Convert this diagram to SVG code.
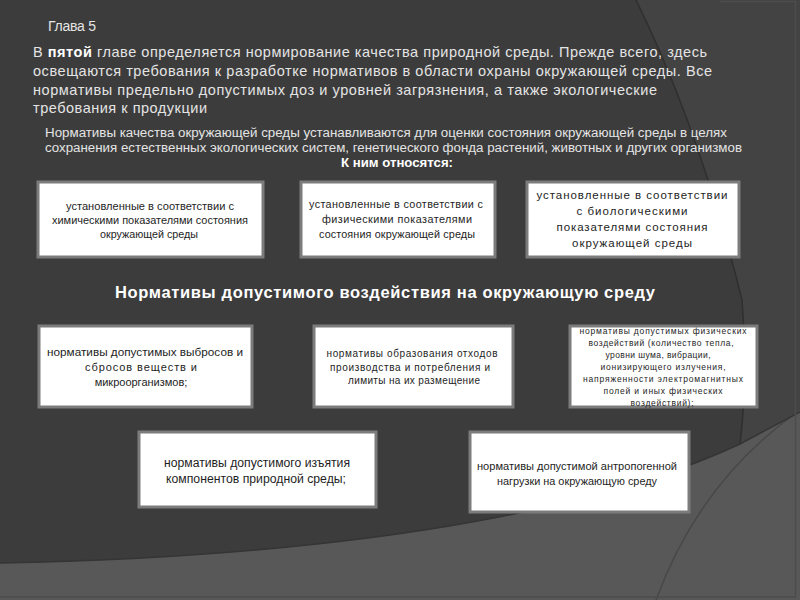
<svg xmlns="http://www.w3.org/2000/svg" width="800" height="600" viewBox="0 0 800 600">
<style>
.bg-line{fill:none;stroke-width:1.5}
.box rect{fill:#ffffff;stroke:#7c7c7c;stroke-width:3}
.bt{font-family:"Liberation Sans",Arial,sans-serif;fill:#1e1e1e;text-anchor:middle}
.wt{font-family:"Liberation Sans",Arial,sans-serif;fill:#e4e4e4}
.hd{font-family:"Liberation Sans",Arial,sans-serif;fill:#ffffff;font-weight:bold}
</style>
<g id="background">
<rect x="0" y="0" width="800" height="600" fill="#585858"/>
<path d="M636,0 L800,0 L800,412 L740,444 Q748,380 742,300 Q700,130 636,0 Z" fill="#434343"/>
<path d="M0,0 L636,0 Q700,130 742,300 Q748,380 740,444 C620,500 400,555 0,563 Z" fill="#3c3c3c"/>
<path class="bg-line" d="M636,0 Q700,130 742,300 Q748,380 740,444" stroke="#2f2f2f"/>
<path class="bg-line" d="M800,410 Q700,480 656,600" stroke="#484848"/>
<path class="bg-line" d="M0,563 C400,555 620,500 740,444 L800,412" stroke="#353535"/>
<path class="bg-line" d="M720,1.5 L795.5,1.5 L795.5,597 L0,597" stroke="#4c4c4c" stroke-width="1"/>
</g>
<g id="title">
<text class="wt" x="48" y="31" font-size="14" textLength="48" lengthAdjust="spacing">Глава 5</text>
</g>
<g id="intro">
<text class="wt" x="33" y="57" font-size="14.5" textLength="674" lengthAdjust="spacing">В <tspan font-weight="bold" fill="#ffffff">пятой</tspan> главе определяется нормирование качества природной среды. Прежде всего, здесь</text>
<text class="wt" x="33" y="76" font-size="14.5" textLength="679" lengthAdjust="spacing">освещаются требования к разработке нормативов в области охраны окружающей среды. Все</text>
<text class="wt" x="33" y="94.5" font-size="14.5" textLength="624" lengthAdjust="spacing">нормативы предельно допустимых доз и уровней загрязнения, а также экологические</text>
<text class="wt" x="33" y="113" font-size="14.5" textLength="174" lengthAdjust="spacing">требования к продукции</text>
</g>
<g id="quality-note">
<text class="wt" x="45" y="137" font-size="12" textLength="682" lengthAdjust="spacingAndGlyphs">Нормативы качества окружающей среды устанавливаются для оценки состояния окружающей среды в целях</text>
<text class="wt" x="45" y="152" font-size="12" textLength="697" lengthAdjust="spacingAndGlyphs">сохранения естественных экологических систем, генетического фонда растений, животных и других организмов</text>
<text class="hd" x="397" y="167" font-size="12" text-anchor="middle" textLength="112" lengthAdjust="spacingAndGlyphs">К ним относятся:</text>
</g>
<g id="box-chem" class="box">
<rect x="38" y="182" width="225" height="75"/>
<text class="bt" x="150" y="210" font-size="11" textLength="168" lengthAdjust="spacingAndGlyphs">установленные в соответствии с</text>
<text class="bt" x="150" y="224" font-size="11" textLength="196" lengthAdjust="spacingAndGlyphs">химическими показателями состояния</text>
<text class="bt" x="149" y="238" font-size="11" textLength="98" lengthAdjust="spacingAndGlyphs">окружающей среды</text>
</g>
<g id="box-phys" class="box">
<rect x="301" y="182" width="194" height="75"/>
<text class="bt" x="396" y="208" font-size="10.8" textLength="174" lengthAdjust="spacing">установленные в соответствии с</text>
<text class="bt" x="397" y="223" font-size="10.8" textLength="150" lengthAdjust="spacing">физическими показателями</text>
<text class="bt" x="397" y="238" font-size="10.8" textLength="156" lengthAdjust="spacing">состояния окружающей среды</text>
</g>
<g id="box-bio" class="box">
<rect x="527" y="182" width="212" height="75"/>
<text class="bt" x="632" y="199" font-size="11.5" textLength="191" lengthAdjust="spacing">установленные в соответствии</text>
<text class="bt" x="632" y="215" font-size="11.5" textLength="111" lengthAdjust="spacing">с биологическими</text>
<text class="bt" x="632" y="231" font-size="11.5" textLength="151" lengthAdjust="spacing">показателями состояния</text>
<text class="bt" x="632" y="247" font-size="11.5" textLength="120" lengthAdjust="spacing">окружающей среды</text>
</g>
<g id="heading">
<text class="hd" x="385" y="298" font-size="16.5" text-anchor="middle" textLength="540" lengthAdjust="spacing">Нормативы допустимого воздействия на окружающую среду</text>
</g>
<g id="box-emissions" class="box">
<rect x="39" y="326" width="213" height="81"/>
<text class="bt" x="145" y="356" font-size="11" textLength="196" lengthAdjust="spacingAndGlyphs">нормативы допустимых выбросов и</text>
<text class="bt" x="141" y="371" font-size="11" textLength="112" lengthAdjust="spacing">сбросов веществ и</text>
<text class="bt" x="141" y="386" font-size="11">микроорганизмов;</text>
</g>
<g id="box-waste" class="box">
<rect x="314" y="326" width="199" height="81"/>
<text class="bt" x="412" y="357" font-size="10" textLength="171" lengthAdjust="spacing">нормативы образования отходов</text>
<text class="bt" x="410" y="370.5" font-size="10" textLength="160" lengthAdjust="spacing">производства и потребления и</text>
<text class="bt" x="414" y="384" font-size="10" textLength="132" lengthAdjust="spacing">лимиты на их размещение</text>
</g>
<g id="box-physical-impact" class="box">
<rect x="570" y="326" width="187" height="81"/>
<text class="bt" x="663" y="334" font-size="8.5" textLength="167" lengthAdjust="spacing">нормативы допустимых физических</text>
<text class="bt" x="661" y="346" font-size="8.5" textLength="145" lengthAdjust="spacing">воздействий (количество тепла,</text>
<text class="bt" x="658" y="358" font-size="8.5" textLength="105" lengthAdjust="spacing">уровни шума, вибрации,</text>
<text class="bt" x="663" y="370" font-size="8.5" textLength="125" lengthAdjust="spacing">ионизирующего излучения,</text>
<text class="bt" x="663" y="382" font-size="8.5" textLength="160" lengthAdjust="spacing">напряженности электромагнитных</text>
<text class="bt" x="663" y="394" font-size="8.5" textLength="119" lengthAdjust="spacing">полей и иных физических</text>
<text class="bt" x="662" y="406" font-size="8.5" textLength="63" lengthAdjust="spacing">воздействий);</text>
</g>
<g id="box-withdrawal" class="box">
<rect x="139" y="432" width="237" height="75"/>
<text class="bt" x="257" y="467" font-size="12" textLength="186" lengthAdjust="spacingAndGlyphs">нормативы допустимого изъятия</text>
<text class="bt" x="256" y="483" font-size="12" textLength="180" lengthAdjust="spacingAndGlyphs">компонентов природной среды;</text>
</g>
<g id="box-anthropogenic" class="box">
<rect x="470" y="432" width="219" height="80"/>
<text class="bt" x="577" y="470" font-size="11" textLength="200" lengthAdjust="spacingAndGlyphs">нормативы допустимой антропогенной</text>
<text class="bt" x="577" y="485" font-size="11" textLength="160" lengthAdjust="spacingAndGlyphs">нагрузки на окружающую среду</text>
</g>
</svg>
